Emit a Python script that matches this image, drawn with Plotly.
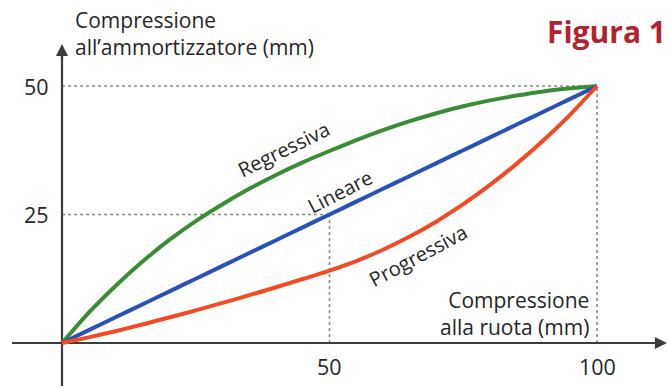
import plotly.graph_objects as go

# Data
x_vals = [0, 5, 10, 15, 20, 25, 30, 35, 40, 45, 50, 55, 60, 65, 70, 75, 80, 85, 90, 95, 100]
regressiva = [0, 5.9, 11.1, 15.8, 20.0, 23.7, 27.0, 30.0, 32.7, 35.15, 37.35, 39.45, 41.4,
              43.15, 44.7, 46.05, 47.2, 48.15, 48.95, 49.55, 50]
lineare = [0, 2.5, 5, 7.5, 10, 12.5, 15, 17.5, 20, 22.5, 25, 27.5, 30, 32.5, 35,
           37.5, 40, 42.5, 45, 47.5, 50]
progressiva = [0, 1.1, 2.3, 3.6, 4.95, 6.35, 7.8, 9.3, 10.85, 12.45, 14.1, 15.95, 18.15,
               20.7, 23.65, 27.0, 30.75, 34.9, 39.45, 44.45, 50]
x_ticks = [50, 100]
y_ticks = [25, 50]
series_names = ["Regressiva", "Lineare", "Progressiva"]

W, H = 669, 388
x0_px, x1_px = 62, 597      # pixel of x=0 and x=100
y0_px, y1_px = 343, 86      # pixel of y=0 and y=50
sx = (x1_px - x0_px) / 100.0
sy = (y0_px - y1_px) / 50.0
xr = [(0 - x0_px) / sx, (W - x0_px) / sx]
yr = [(y0_px - H) / sy, (y0_px - 0) / sy]

def px_x(p):
    return (p - x0_px) / sx

def px_y(p):
    return (y0_px - p) / sy

GREEN = "#3b8c36"
BLUE = "#2b50b8"
RED = "#f24b24"
AX = "#3c3c3c"
GRID = "#8a8a8a"
TXT = "#262626"
FONT = "Open Sans"

fig = go.Figure()

# gridlines (dotted)
grid_segments = [
    ([0, 100], [50, 50]),
    ([0, 50], [25, 25]),
    ([50, 50], [0, 25]),
    ([100, 100], [0, 50]),
]
for gx, gy in grid_segments:
    fig.add_trace(go.Scatter(x=gx, y=gy, mode="lines",
                             line=dict(color=GRID, width=1.6, dash="dot"),
                             hoverinfo="skip", showlegend=False))

# axes lines
fig.add_trace(go.Scatter(x=[px_x(12), px_x(656)], y=[0, 0], mode="lines",
                         line=dict(color=AX, width=2.2), hoverinfo="skip", showlegend=False))
fig.add_trace(go.Scatter(x=[0, 0], y=[px_y(386), px_y(56)], mode="lines",
                         line=dict(color=AX, width=2.2), hoverinfo="skip", showlegend=False))

# curves
for name, vals, col in [(series_names[0], regressiva, GREEN),
                        (series_names[1], lineare, BLUE),
                        (series_names[2], progressiva, RED)]:
    fig.add_trace(go.Scatter(x=x_vals, y=vals, mode="lines", name=name,
                             line=dict(color=col, width=4, shape="spline", smoothing=0.6),
                             showlegend=False))

annotations = []
# arrow heads
annotations.append(dict(x=px_x(667), y=0, ax=px_x(650), ay=0, xref="x", yref="y",
                        axref="x", ayref="y", text="", showarrow=True, arrowhead=2,
                        arrowsize=1.1, arrowwidth=2.2, arrowcolor=AX))
annotations.append(dict(x=0, y=px_y(44), ax=0, ay=px_y(62), xref="x", yref="y",
                        axref="x", ayref="y", text="", showarrow=True, arrowhead=2,
                        arrowsize=1.1, arrowwidth=2.2, arrowcolor=AX))

# curve labels
annotations.append(dict(x=px_x(283), y=px_y(149), text="Regressiva", textangle=-26,
                        showarrow=False, font=dict(family=FONT, size=20, color=TXT)))
annotations.append(dict(x=px_x(340), y=px_y(191), text="Lineare", textangle=-27,
                        showarrow=False, font=dict(family=FONT, size=20, color=TXT)))
annotations.append(dict(x=px_x(418), y=px_y(255), text="Progressiva", textangle=-28,
                        showarrow=False, font=dict(family=FONT, size=20, color=TXT)))

# axis titles
annotations.append(dict(x=px_x(73), y=px_y(4), text="Compressione<br>all’ammortizzatore (mm)",
                        xanchor="left", yanchor="top", align="left", showarrow=False,
                        font=dict(family=FONT, size=21, color=TXT)))
annotations.append(dict(x=px_x(591), y=px_y(284), text="Compressione<br>alla ruota (mm)",
                        xanchor="right", yanchor="top", align="right", showarrow=False,
                        font=dict(family=FONT, size=21, color=TXT)))
# figure title
annotations.append(dict(x=px_x(668), y=px_y(9), text="<b>Figura 1</b>",
                        xanchor="right", yanchor="top", showarrow=False,
                        font=dict(family=FONT, size=30, color="#b3222e")))

# tick labels through axis scale positions
for t in x_ticks:
    annotations.append(dict(x=t, y=0, text=str(t), yanchor="top", yshift=-7,
                            showarrow=False, font=dict(family=FONT, size=21.5, color=TXT)))
for t in y_ticks:
    annotations.append(dict(x=0, y=t, text=str(t), xanchor="right", xshift=-11,
                            showarrow=False, font=dict(family=FONT, size=21.5, color=TXT)))

fig.update_layout(
    width=W, height=H,
    margin=dict(l=0, r=0, t=0, b=0),
    paper_bgcolor="white", plot_bgcolor="white",
    xaxis=dict(range=xr, visible=False, fixedrange=True),
    yaxis=dict(range=yr, visible=False, fixedrange=True),
    annotations=annotations,
    showlegend=False,
)

fig.write_html("out.html", config={"displayModeBar": False},
               post_script="document.body.style.margin='0';document.body.style.overflow='hidden';")
